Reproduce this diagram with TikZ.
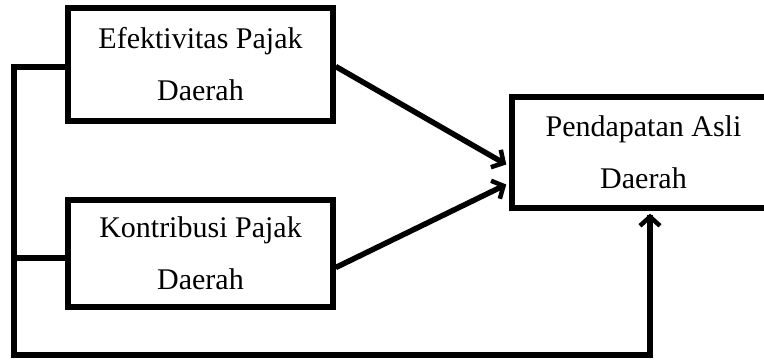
\documentclass[tikz,border=0pt]{standalone}
\usepackage{fontspec}
\setmainfont{Liberation Serif}
\usetikzlibrary{arrows.meta}
\begin{document}
\begin{tikzpicture}[x=1pt,y=-1pt,
  box/.style={draw,line width=5.5pt,inner sep=0pt,align=center,
    font=\fontsize{30}{52}\selectfont},
  conn/.style={line width=5.5pt},
  arr/.style={line width=5.5pt,-{Straight Barb[length=9pt,width=20pt,line width=4.5pt]}}]
\useasboundingbox (0,0) rectangle (764,360);
\node[box,minimum width=265pt,minimum height=113pt] (b1) at (200.5,64.5) {Efektivitas Pajak\\Daerah};
\node[box,minimum width=265pt,minimum height=107pt] (b2) at (200.5,253.5) {Kontribusi Pajak\\Daerah};
\node[box,minimum width=263pt,minimum height=111pt] (b3) at (643.5,152.5) {Pendapatan Asli\\Daerah};
\coordinate (tl) at (14,67);
\coordinate (bl) at (14,355);
\draw[conn] (b1.west |- tl) -- (tl) -- (bl) -| ([yshift=-4pt]b3.south -| 650,0);
\draw[arr] (bl -| 650,0) -- ([yshift=-3pt]b3.south -| 650,0);
\draw[conn] (b2.west |- 14,258) -- (14,258);
\draw[arr] ([yshift=-2pt]b1.east) -- ([xshift=-3pt,yshift=-12pt]b3.west);
\draw[arr] ([yshift=-14pt]b2.east) -- ([xshift=-3pt,yshift=-32pt]b3.west);
\end{tikzpicture}
\end{document}
